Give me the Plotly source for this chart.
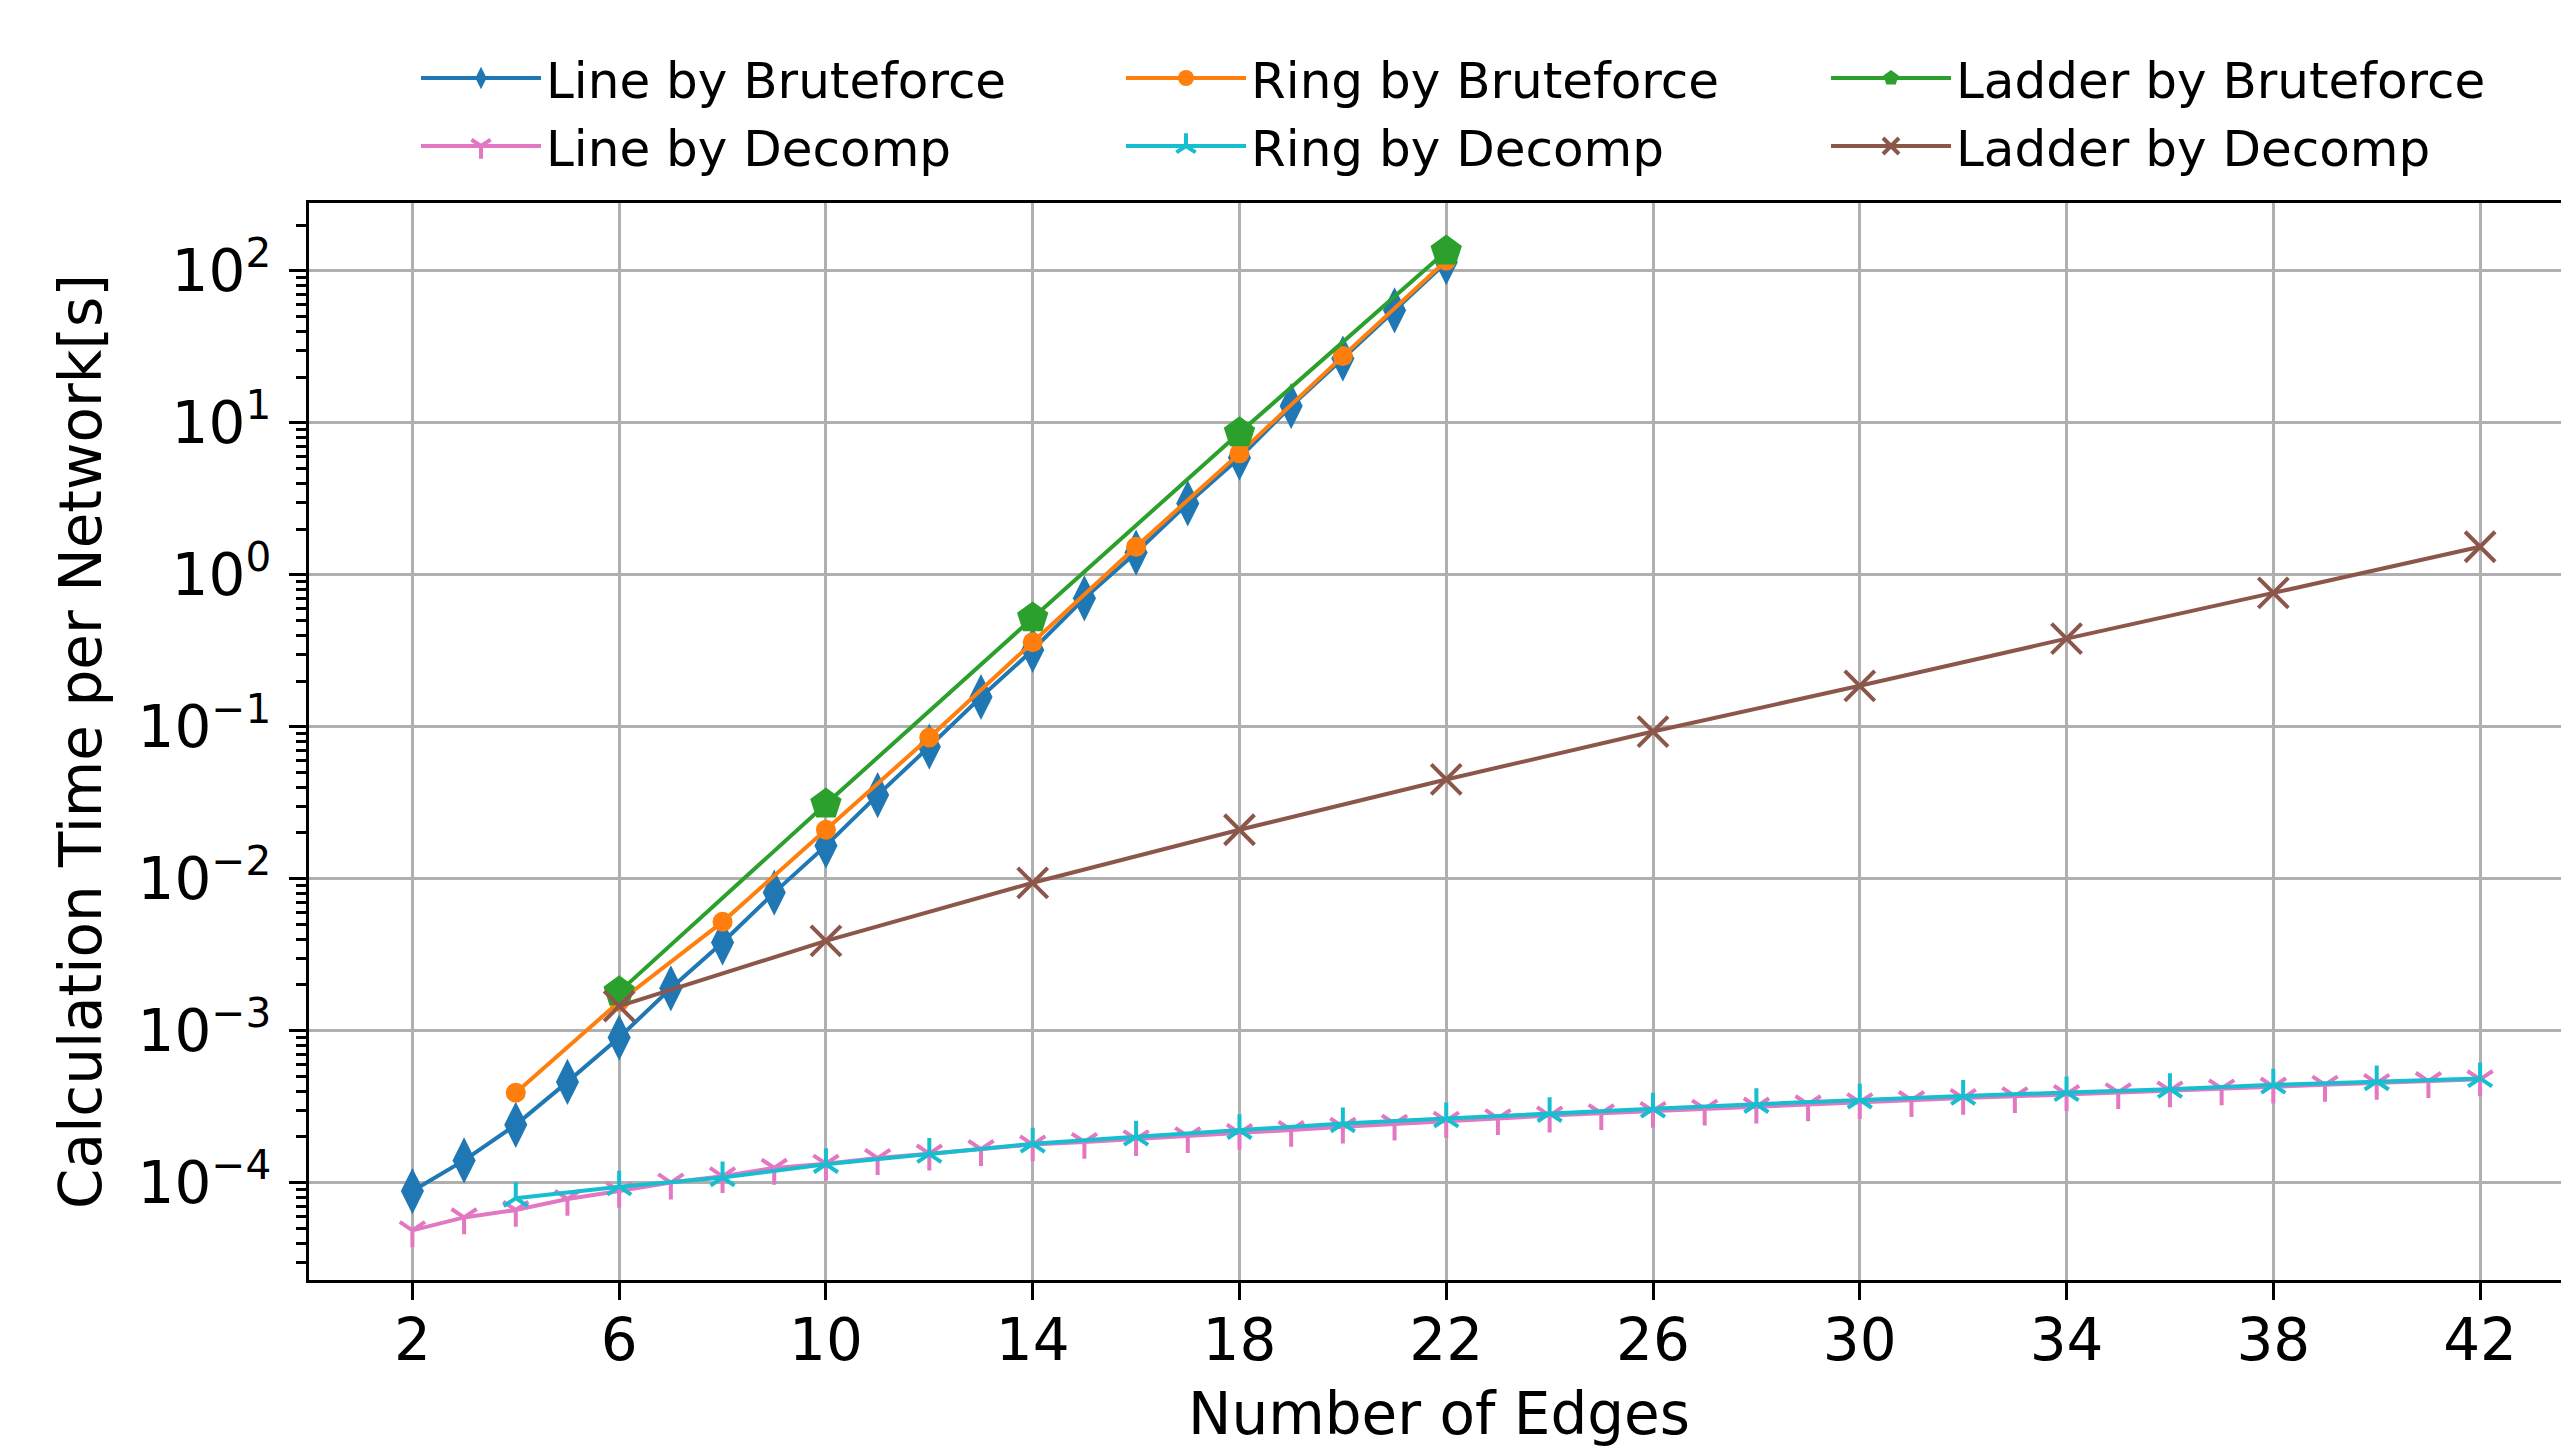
import plotly.graph_objects as go

# ---------------- data ----------------
line_bf_x = list(range(2, 23))
line_bf_y = [8.8e-5, 1.4e-4, 2.4e-4, 4.6e-4, 9.0e-4, 1.9e-3, 3.8e-3, 8.1e-3, 1.65e-2,
             3.55e-2, 7.4e-2, 0.157, 0.32, 0.70, 1.40, 2.95, 5.9, 12.9, 26.5, 55, 114]

ring_bf_x = list(range(4, 23, 2))
ring_bf_y = [3.9e-4, 1.55e-3, 5.2e-3, 2.1e-2, 8.5e-2, 0.36, 1.53, 6.3, 27.5, 117]

ladder_bf_x = [6, 10, 14, 18, 22]
ladder_bf_y = [1.8e-3, 3.1e-2, 0.52, 8.6, 135]

line_dc_x = list(range(2, 43))
line_dc_y = [4.85e-5, 5.9e-5, 6.6e-5, 7.8e-5, 8.8e-5, 1.0e-4, 1.1e-4, 1.25e-4, 1.33e-4,
             1.45e-4, 1.55e-4, 1.66e-4, 1.78e-4, 1.85e-4, 1.93e-4, 2.02e-4, 2.12e-4,
             2.22e-4, 2.33e-4, 2.44e-4, 2.55e-4, 2.65e-4, 2.76e-4, 2.86e-4, 2.96e-4,
             3.06e-4, 3.16e-4, 3.27e-4, 3.38e-4, 3.49e-4, 3.6e-4, 3.7e-4, 3.82e-4,
             3.93e-4, 4.04e-4, 4.16e-4, 4.28e-4, 4.4e-4, 4.52e-4, 4.65e-4, 4.78e-4]

ring_dc_x = list(range(4, 43, 2))
ring_dc_y = [7.9e-5, 9.4e-5, 1.08e-4, 1.32e-4, 1.54e-4, 1.8e-4, 2.0e-4, 2.21e-4, 2.45e-4,
             2.64e-4, 2.86e-4, 3.06e-4, 3.28e-4, 3.51e-4, 3.71e-4, 3.92e-4, 4.12e-4,
             4.4e-4, 4.63e-4, 4.85e-4]

ladder_dc_x = list(range(6, 43, 4))
ladder_dc_y = [1.45e-3, 3.9e-3, 9.4e-3, 2.1e-2, 4.5e-2, 9.3e-2, 0.186, 0.38, 0.76, 1.53]

x_ticks = list(range(2, 43, 4))
y_major = [1e-4, 1e-3, 1e-2, 1e-1, 1e0, 1e1, 1e2]
y_major_text = ["10<sup>\u22124</sup>", "10<sup>\u22123</sup>", "10<sup>\u22122</sup>",
                "10<sup>\u22121</sup>", "10<sup>0</sup>", "10<sup>1</sup>", "10<sup>2</sup>"]

FONT = "DejaVu Sans"
LW = 4

fig = go.Figure()

def add(name, x, y, color, symbol, size, open_sym=False, mlw=0):
    marker = dict(symbol=symbol, size=size, color=color)
    if open_sym:
        marker["line"] = dict(color=color, width=mlw)
    fig.add_trace(go.Scatter(x=x, y=y, name=name, mode="lines+markers",
                             line=dict(color=color, width=LW), marker=marker))

add("Line by Bruteforce", line_bf_x, line_bf_y, "#1f77b4", "diamond-tall", 33)
add("Ring by Bruteforce", ring_bf_x, ring_bf_y, "#ff7f0e", "circle", 20)
add("Ladder by Bruteforce", ladder_bf_x, ladder_bf_y, "#2ca02c", "pentagon", 33)
add("Line by Decomp", line_dc_x, line_dc_y, "#e377c2", "y-down", 21, True, 4)
add("Ring by Decomp", ring_dc_x, ring_dc_y, "#17becf", "y-up", 20, True, 4)
add("Ladder by Decomp", ladder_dc_x, ladder_dc_y, "#8c564b", "x-thin", 30, True, 4)

minor_vals = [k * 10.0 ** e for e in range(-5, 3) for k in range(2, 10)]

# page body has an 8px margin, so the figure is made 8px smaller and shifted
W, H = 2561, 1440

fig.update_layout(
    width=W, height=H,
    margin=dict(l=301, r=0, t=195, b=168),
    paper_bgcolor="white", plot_bgcolor="white",
    font=dict(family=FONT, color="black", size=58),
    showlegend=True,
    legend=dict(
        orientation="h", xref="container", yref="container",
        x=408 / W, y=1 - 31 / H, xanchor="left", yanchor="top",
        font=dict(family=FONT, size=50, color="black"),
        entrywidth=570, entrywidthmode="pixels",
        itemwidth=120, bgcolor="rgba(0,0,0,0)", tracegroupgap=0,
    ),
    xaxis=dict(
        range=[0, 43.72], tickmode="array", tickvals=x_ticks,
        ticks="outside", ticklen=17, tickwidth=3.3, tickcolor="black",
        showline=True, linewidth=3.3, linecolor="black", mirror=True,
        showgrid=True, gridcolor="#b0b0b0", gridwidth=3.3, zeroline=False,
        tickfont=dict(size=58), ticklabelstandoff=-10,
        title=dict(text="Number of Edges", font=dict(size=58), standoff=25),
    ),
    yaxis=dict(
        type="log", range=[-4.641, 2.447],
        tickmode="array", tickvals=y_major, ticktext=y_major_text,
        ticks="outside", ticklen=17, tickwidth=3.3, tickcolor="black",
        showline=True, linewidth=3.3, linecolor="black", mirror=False,
        showgrid=True, gridcolor="#b0b0b0", gridwidth=3.3, zeroline=False,
        tickfont=dict(size=58), ticklabelstandoff=6,
        minor=dict(tickmode="array", tickvals=minor_vals, ticks="outside",
                   ticklen=10, tickwidth=2.5, tickcolor="black", showgrid=False),
        title=dict(text="Calculation Time per Network[s]", font=dict(size=58), standoff=18),
    ),
)

fig.write_html("out.html")
